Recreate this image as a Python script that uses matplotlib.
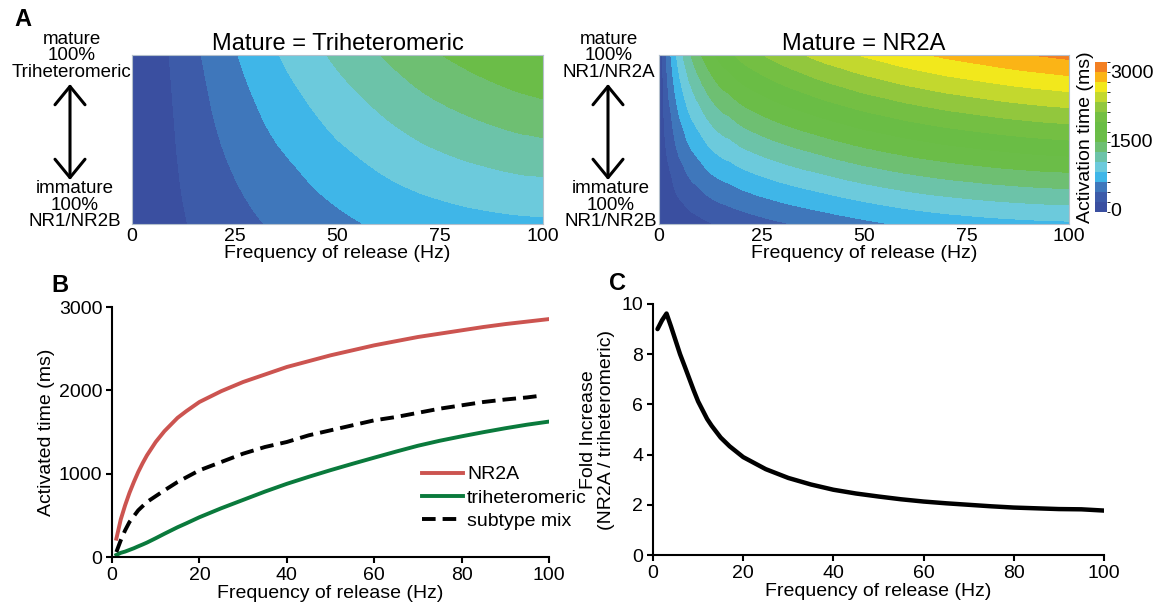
import numpy as np
import matplotlib
matplotlib.use("Agg")
import matplotlib.pyplot as plt
import matplotlib.tri as mtri
from matplotlib.colors import ListedColormap, BoundaryNorm
from matplotlib.cm import ScalarMappable

plt.rcParams['font.family'] = ['Liberation Sans', 'DejaVu Sans']

W, H = 1160, 607

# frequency of release (Hz), shared by the contour rows and panel B
freq = [0, 1, 2, 3, 4, 5, 6, 7, 8, 10, 12, 15, 17, 20, 25, 30, 35, 40, 45, 50,
        55, 60, 65, 70, 75, 80, 85, 90, 95, 100]
# activation time (ms) for pure receptor populations
nr2a = [0, 220, 450, 620, 770, 900, 1020, 1125, 1220, 1380, 1510, 1670, 1750, 1860, 1990,
        2100, 2190, 2280, 2350, 2420, 2480, 2540, 2590, 2640, 2680, 2720, 2760, 2795, 2825, 2855]
tri = [0, 25, 50, 65, 85, 105, 128, 150, 173, 225, 279, 357, 404, 477, 585,
       685, 785, 878, 962, 1042, 1118, 1192, 1265, 1335, 1395, 1448, 1498, 1545, 1588, 1625]
nr2b = [0, 15, 31, 46, 62, 77, 92, 107, 122, 152, 180, 218, 242, 275, 330,
        380, 425, 468, 510, 550, 590, 625, 655, 680, 700, 720, 735, 748, 758, 765]

# subtype mix (dashed line in B)
mix_freq = [1, 2, 3, 4, 5, 6, 8, 10, 12, 15, 20, 25, 30, 35, 40, 45, 50, 55,
            60, 65, 70, 75, 80, 85, 90, 95, 98]
mix = [60, 200, 320, 420, 490, 560, 660, 730, 800, 900, 1040, 1140, 1240, 1320,
       1380, 1460, 1520, 1580, 1640, 1680, 1730, 1780, 1820, 1860, 1890, 1915, 1935]

# fold increase NR2A / triheteromeric (panel C)
fold_freq = [1, 2, 3, 4, 5, 6, 7, 8, 9, 10, 12, 13, 15, 17, 20, 25, 30, 35, 40, 45, 50,
             55, 60, 65, 70, 75, 80, 85, 90, 95, 100]
fold = [9.0, 9.35, 9.62, 9.1, 8.55, 8.0, 7.53, 7.05, 6.57, 6.12, 5.42, 5.15, 4.68, 4.33,
        3.9, 3.42, 3.07, 2.81, 2.6, 2.45, 2.33, 2.22, 2.13, 2.06, 2.0, 1.94, 1.89, 1.86,
        1.83, 1.82, 1.77]

# percent of mature subtype (0 = 100% NR1/NR2B, 100 = 100% mature)
maturity = [0, 100]

levels = np.arange(0, 3001, 200)
band_colors = ['#3a4fa0', '#3d5ba9', '#3f77bb', '#3fb6e8', '#6ccadc', '#6cc3a9',
               '#6ebf72', '#6bbd48', '#6abd45', '#74bf43', '#92c73d', '#c3d82e',
               '#f2e81c', '#fbb416', '#f37f22']
cbar_edges = np.linspace(-60, 3200, 16)

cmap = ListedColormap(band_colors)
cmap.set_under(band_colors[0])
cmap.set_over(band_colors[-1])


def px_box(x0, y0, x1, y1):
    return [x0 / W, 1 - y1 / H, (x1 - x0) / W, (y1 - y0) / H]


def fpos(x, y):
    return (x / W, 1 - y / H)


fig = plt.figure(figsize=(W / 100, H / 100), dpi=100)

# ---- panel A ----
axA1 = fig.add_axes(px_box(132, 55, 543, 224))
axA2 = fig.add_axes(px_box(659, 55, 1069, 224))
cax = fig.add_axes(px_box(1095, 62, 1107, 212))

gx, gy = np.meshgrid(freq, maturity)
triang = mtri.Triangulation(gx.ravel(), gy.ravel())
refiner = mtri.UniformTriRefiner(triang)

for ax, top, title in [(axA1, tri, 'Mature = Triheteromeric'), (axA2, nr2a, 'Mature = NR2A')]:
    z = np.array([nr2b, top], dtype=float).ravel()
    interp = mtri.CubicTriInterpolator(triang, z, kind='geom')
    tri_fine, z_fine = refiner.refine_field(z, triinterpolator=interp, subdiv=4)
    ax.tricontourf(tri_fine, z_fine, levels=levels, cmap=cmap,
                   norm=BoundaryNorm(levels, len(band_colors)), extend='both')
    ax.set_xlim(0, 100)
    ax.set_ylim(0, 100)
    ax.set_yticks([])
    ax.set_xticks([0, 25, 50, 75, 100])
    ax.tick_params(axis='x', length=0, labelsize=14, pad=3)
    ax.set_xlabel('Frequency of release (Hz)', fontsize=14, labelpad=0)
    ax.set_title(title, fontsize=17, pad=2)
    for s in ax.spines.values():
        s.set_color('#b4c0cc')
        s.set_linewidth(0.8)

sm = ScalarMappable(norm=BoundaryNorm(cbar_edges, 15), cmap=ListedColormap(band_colors))
cb = fig.colorbar(sm, cax=cax, ticks=[0, 1500, 3000])
cb.outline.set_visible(False)
cax.tick_params(length=0, labelsize=14, pad=2)
cax.yaxis.set_label_position('left')
cax.set_ylabel('Activation time (ms)', fontsize=14, labelpad=1)

side_labels = [(72, 56, 'mature\n100%\nTriheteromeric'),
               (75, 205, 'immature\n100%\nNR1/NR2B'),
               (609, 56, 'mature\n100%\nNR1/NR2A'),
               (611, 205, 'immature\n100%\nNR1/NR2B')]
for x, y, s in side_labels:
    fig.text(*fpos(x, y), s, ha='center', va='center', fontsize=13.5, linespacing=0.95)

for x in [70, 608]:
    fig.add_artist(plt.Annotation('', xy=fpos(x, 84), xytext=fpos(x, 180),
                                  xycoords='figure fraction', textcoords='figure fraction',
                                  arrowprops=dict(arrowstyle='<->,head_length=0.55,head_width=0.45',
                                                  lw=2.2, color='black', mutation_scale=24,
                                                  shrinkA=0, shrinkB=0)))

# ---- panel B ----
axB = fig.add_axes(px_box(112, 307, 549, 557))
axB.plot(freq[1:], nr2a[1:], color='#cc5450', lw=2.8, label='NR2A')
axB.plot(freq[1:], tri[1:], color='#0a7a3c', lw=2.8, label='triheteromeric')
axB.plot(mix_freq, mix, color='black', lw=2.8, dashes=(3.5, 1.8), label='subtype mix')
axB.set_xlim(0, 100)
axB.set_ylim(0, 3000)
axB.set_xticks(range(0, 101, 20))
axB.set_yticks([0, 1000, 2000, 3000])
axB.set_xlabel('Frequency of release (Hz)', fontsize=14, labelpad=1)
axB.set_ylabel('Activated time (ms)', fontsize=14, labelpad=3)
axB.legend(loc='upper left', bbox_to_anchor=(0.71, 0.365), frameon=False, fontsize=14,
           handlelength=2.1, handletextpad=0.2, labelspacing=0.3, borderpad=0, borderaxespad=0)

# ---- panel C ----
axC = fig.add_axes(px_box(653, 304, 1104, 555))
axC.plot(fold_freq, fold, color='black', lw=3.2, solid_capstyle='round')
axC.set_xlim(0, 100)
axC.set_ylim(0, 10)
axC.set_xticks(range(0, 101, 20))
axC.set_yticks(range(0, 11, 2))
axC.set_xlabel('Frequency of release (Hz)', fontsize=14, labelpad=1)
axC.set_ylabel('Fold Increase\n(NR2A / triheteromeric)', fontsize=14, labelpad=5, linespacing=1.05)

for ax in [axB, axC]:
    for side in ['top', 'right']:
        ax.spines[side].set_visible(False)
    for side in ['left', 'bottom']:
        ax.spines[side].set_linewidth(1.5)
    ax.tick_params(direction='out', length=4, width=1.5, labelsize=14, pad=3)

fig.text(*fpos(23, 20), 'A', fontsize=17, fontweight='bold', ha='center', va='center')
fig.text(*fpos(60, 285), 'B', fontsize=17, fontweight='bold', ha='center', va='center')
fig.text(*fpos(617, 284), 'C', fontsize=17, fontweight='bold', ha='center', va='center')

fig.savefig('out.png', dpi=100)
